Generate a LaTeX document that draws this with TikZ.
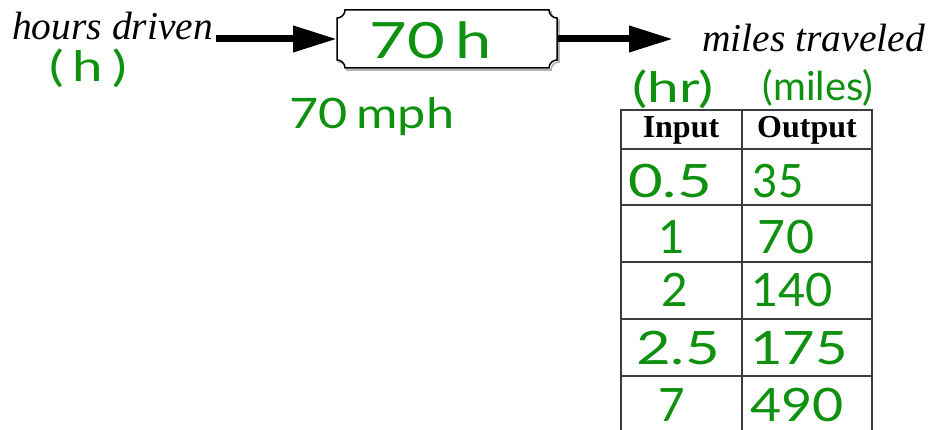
\documentclass[tikz,border=0pt]{standalone}
\usepackage{fontspec}
\usepackage{graphicx}
\setmainfont{Liberation Serif}
\newfontfamily\hand{Lato}
\usetikzlibrary{arrows.meta}
\definecolor{ink}{RGB}{14,145,14}
\definecolor{rule}{RGB}{60,60,60}
\newcommand{\hx}[2]{\scalebox{#1}[1]{#2}}
\tikzset{
  hw/.style={text=ink, font=\hand\fontsize{#1}{#1}\selectfont, inner sep=0pt},
  hw/.default=44,
  label38/.style={font=\itshape\fontsize{39.5}{41}\selectfont, inner sep=0pt},
  head/.style={font=\bfseries\fontsize{32}{34}\selectfont, inner sep=0pt},
  bigarrow/.style={line width=7pt, -{Triangle[length=44pt,width=25pt]}},
  tline/.style={draw=rule, line width=1.4pt},
}
\begin{document}
\begin{tikzpicture}[x=1pt,y=1pt]
\useasboundingbox (0,0) rectangle (932,430);
% box
\def\Lx{337}\def\Rx{557}\def\Ty{420}\def\By{362}\def\rr{8}
\begin{scope}[shift={(2,-2)}]
\draw[gray!60, line width=1.6pt]
  (\Lx+\rr,\Ty) -- (\Rx-\rr,\Ty) arc[start angle=180,end angle=270,radius=\rr]
  -- (\Rx,\By+\rr) arc[start angle=90,end angle=180,radius=\rr]
  -- (\Lx+\rr,\By) arc[start angle=0,end angle=90,radius=\rr]
  -- (\Lx,\Ty-\rr) arc[start angle=270,end angle=360,radius=\rr] -- cycle;
\end{scope}
\draw[black, line width=1.5pt, fill=white]
  (\Lx+\rr,\Ty) -- (\Rx-\rr,\Ty) arc[start angle=180,end angle=270,radius=\rr]
  -- (\Rx,\By+\rr) arc[start angle=90,end angle=180,radius=\rr]
  -- (\Lx+\rr,\By) arc[start angle=0,end angle=90,radius=\rr]
  -- (\Lx,\Ty-\rr) arc[start angle=270,end angle=360,radius=\rr] -- cycle;
\coordinate (boxW) at (\Lx,391);
\coordinate (boxE) at (\Rx,391);
\node[hw=50] (fn) at (431,390) {\hx{1.3}{70\,h}};
% labels
\node[label38, anchor=base west] (inlbl) at (12,390) {hours driven};
\node[label38, anchor=base west] (outlbl) at (702,378) {miles traveled};
\coordinate (a1s) at (216,391);
\coordinate (a2e) at (673,391);
\draw[bigarrow] (a1s) -- (boxW);
\draw[bigarrow] (boxE) -- (a2e);
\node[hw=42] (hlbl) at (88,362) {\hx{1.3}{(\,h\,)}};
\node[hw=42] (rate) at (372,313) {\hx{1.2}{70\,mph}};
% table
\draw[tline] (621,0) -- (621,320) -- (872,320) -- (872,0);
\draw[tline] (742,0) -- (742,320);
\foreach \yy in {281,225,168,111,54}{
  \draw[tline] (621,\yy) -- (872,\yy);
}
\node[head] (hin) at (681,300) {Input};
\node[head] (hout) at (807,300) {Output};
\node[hw=42] (uin) at (673,341) {\hx{1.35}{(hr)}};
\node[hw=40] (uout) at (818,342) {(miles)};
\node[hw=46] (i1) at (670,249) {\hx{1.3}{0.5}};
\node[hw=46] (o1) at (778,249) {\hx{0.95}{35}};
\node[hw=46] (i2) at (672,193) {1};
\node[hw=46] (o2) at (786,193) {\hx{1.05}{70}};
\node[hw=46] (i3) at (675,140) {2};
\node[hw=46] (o3) at (792,140) {\hx{1.02}{140}};
\node[hw=46] (i4) at (678,82) {\hx{1.3}{2.5}};
\node[hw=46] (o4) at (799,82) {\hx{1.22}{175}};
\node[hw=46] (i5) at (672,25) {7};
\node[hw=46] (o5) at (797,25) {\hx{1.17}{490}};
\end{tikzpicture}
\end{document}
